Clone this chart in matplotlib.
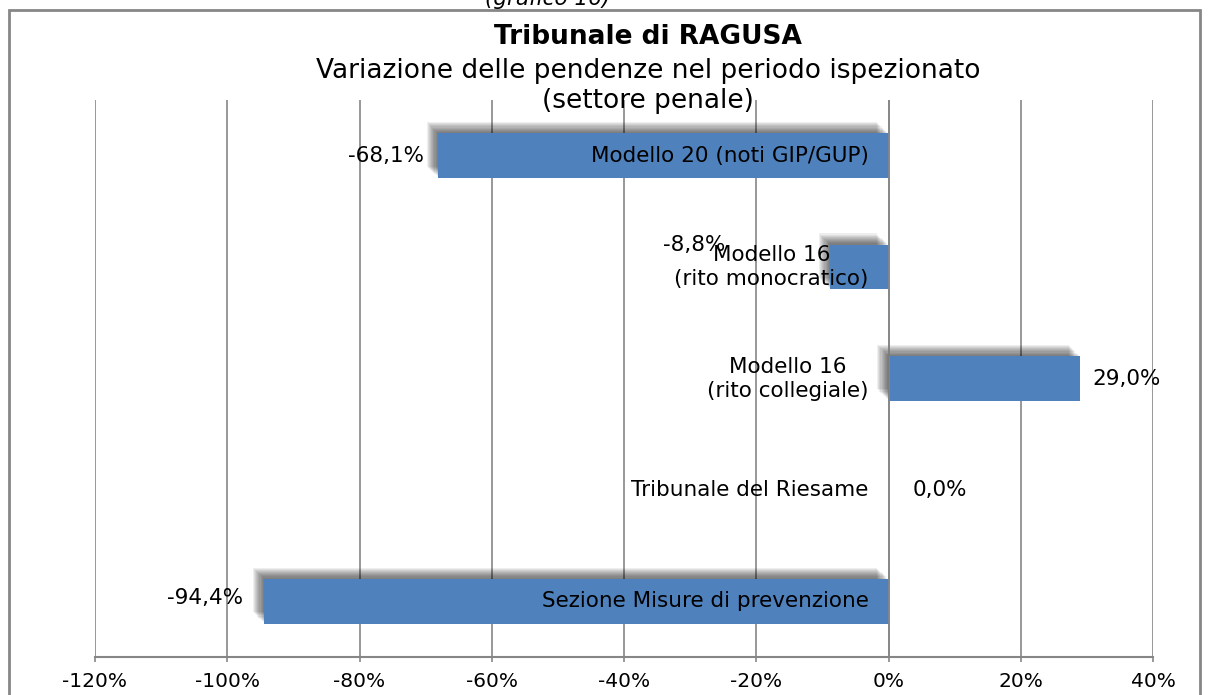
import matplotlib.pyplot as plt
from matplotlib.patches import Rectangle
from matplotlib.ticker import FuncFormatter

# dati
categorie = ['Modello 20 (noti GIP/GUP)',
             'Modello 16\n(rito monocratico)',
             'Modello 16\n(rito collegiale)',
             'Tribunale del Riesame',
             'Sezione Misure di prevenzione']
variazioni = [-68.1, -8.8, 29.0, 0.0, -94.4]
etichette = ['-68,1%', '-8,8%', '29,0%', '0,0%', '-94,4%']

# spostamento delle etichette dei valori (in pixel)
offset_etichette = [(-14, 0), (-105, 22), (12, 0), (24, 0), (-21, 3)]

colore = '#4F81BD'
grigio = '#868686'

fig = plt.figure(figsize=(12.08, 6.95), dpi=100)
ax = fig.add_axes([95 / 1208, 1 - 657 / 695, (1153 - 95) / 1208, (657 - 100) / 695])

y = list(range(len(categorie)))

# ombra sfumata (in alto a sinistra)
for k in range(10):
    d = 1.5 + k * 1.1
    ax.barh([yy - d / 111.4 for yy in y], variazioni, height=0.4,
            left=[-d * 160 / 1058 if v != 0 else 0 for v in variazioni],
            color='black', alpha=0.065, zorder=2, linewidth=0)

ax.barh(y, variazioni, height=0.4, color=colore, zorder=3)

for i, (v, lab) in enumerate(zip(variazioni, etichette)):
    dx, dy = offset_etichette[i]
    ha = 'right' if v < 0 else 'left'
    ax.annotate(lab, (v, i), xytext=(dx, dy), textcoords='offset pixels',
                ha=ha, va='center', fontsize=15.5, zorder=5)
    ax.annotate(categorie[i], (0, i), xytext=(-20, 0), textcoords='offset pixels',
                ha='right', va='center', multialignment='center',
                fontsize=15.5, zorder=5, linespacing=1.25)

ax.set_xlim(-120, 40)
ax.set_ylim(len(categorie) - 0.5, -0.5)
ax.set_xticks(range(-120, 41, 20))
ax.xaxis.set_major_formatter(FuncFormatter(lambda x, p: f'{x:.0f}%'))
ax.set_yticks([])
ax.grid(axis='x', color=grigio, linewidth=1.2, zorder=0)
ax.axvline(0, color=grigio, linewidth=1.2, zorder=4)
for s in ['top', 'right', 'left']:
    ax.spines[s].set_visible(False)
ax.spines['bottom'].set_color(grigio)
ax.spines['bottom'].set_linewidth(1.5)
ax.tick_params(axis='x', colors=grigio, labelcolor='black', labelsize=14.5,
               length=3.5, width=1.2, pad=7)

# titoli
fig.text(548 / 1208, 1 + 1 / 695, '(grafico 16)', ha='center', va='center',
         fontsize=15.5, style='italic')
fig.text(648 / 1208, 1 - 37 / 695, 'Tribunale di RAGUSA', ha='center', va='center',
         fontsize=19, weight='bold')
fig.text(648 / 1208, 1 - 71 / 695, 'Variazione delle pendenze nel periodo ispezionato',
         ha='center', va='center', fontsize=19)
fig.text(648 / 1208, 1 - 101 / 695, '(settore penale)', ha='center', va='center',
         fontsize=19)

# cornice
fig.patches.append(Rectangle((9 / 1208, -0.05), (1200 - 9) / 1208, 1.05 - 10 / 695,
                             transform=fig.transFigure, fill=False,
                             edgecolor=grigio, linewidth=2))

plt.savefig('out.png', dpi=100)
